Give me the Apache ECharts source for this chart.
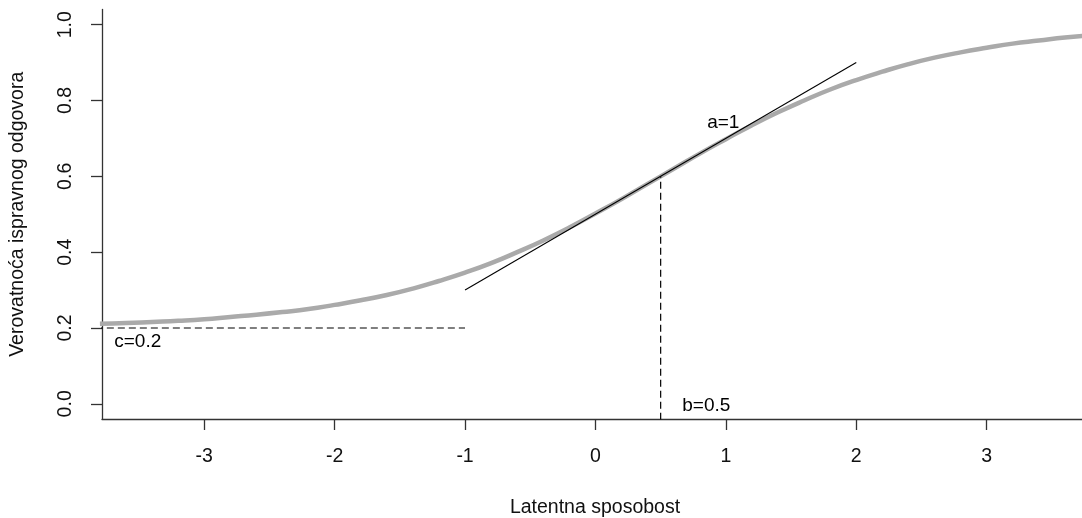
<!DOCTYPE html>
<html>
<head>
<meta charset="utf-8">
<script src="https://cdn.jsdelivr.net/npm/echarts@6/dist/echarts.min.js"></script>
<style>
html,body{margin:0;padding:0;background:#fff;}
#chart{width:1082px;height:518px;}
</style>
</head>
<body>
<div id="chart"></div>
<script>
// Curve values (x from -3.8 to 3.8 every 0.2)
var curveX = [-3.8,-3.6,-3.4,-3.2,-3.0,-2.8,-2.6,-2.4,-2.2,-2.0,-1.8,-1.6,-1.4,-1.2,-1.0,-0.8,-0.6,-0.4,-0.2,0.0,0.2,0.4,0.6,0.8,1.0,1.2,1.4,1.6,1.8,2.0,2.2,2.4,2.6,2.8,3.0,3.2,3.4,3.6,3.8];
var curveY = [0.211,0.213,0.216,0.219,0.223,0.229,0.235,0.242,0.250,0.261,0.273,0.287,0.304,0.324,0.346,0.371,0.400,0.431,0.465,0.502,0.540,0.580,0.620,0.660,0.698,0.735,0.769,0.800,0.829,0.854,0.876,0.896,0.913,0.927,0.939,0.950,0.958,0.966,0.972];
// Tangent line at b
var tangentX = [-1, 2];
var tangentY = [0.3, 0.9];
// Dashed guides
var cLineX = [-4, -1];
var cLineY = [0.2, 0.2];
var bLineX = [0.5, 0.5];
var bLineY = [-0.1, 0.6];
// Annotations
var noteText = ['a=1', 'b=0.5', 'c=0.2'];
var noteX = [0.98, 0.85, -3.51];
var noteY = [0.742, -0.004, 0.165];
// Ticks
var xTicks = [-3, -2, -1, 0, 1, 2, 3];
var yTicks = [0.0, 0.2, 0.4, 0.6, 0.8, 1.0];

function pairs(xs, ys){ return xs.map(function(x,i){ return [x, ys[i]]; }); }

var FONT = 'Liberation Sans, Arial, sans-serif';
var AX = '#333';
var TXT = '#111';

var chart = echarts.init(document.getElementById('chart'), null, {renderer:'canvas'});
chart.setOption({
  animation: false,
  backgroundColor: '#fff',
  grid: {left: 102, right: 0, top: 9.5, bottom: 99, containLabel: false, outerBoundsMode: 'none'},
  xAxis: {
    type: 'value', min: -3.784, max: 3.731,
    name: 'Latentna sposobost', nameLocation: 'middle', nameGap: 79,
    nameTextStyle: {fontFamily: FONT, fontSize: 19.5, color: TXT, padding: [0,0,0,6]},
    axisLine: {onZero: false, lineStyle: {color: AX, width: 1.3}},
    axisTick: {show: true, inside: false, length: 11, customValues: xTicks, lineStyle: {color: AX, width: 1.3}},
    axisLabel: {customValues: xTicks, margin: 28, fontFamily: FONT, fontSize: 19.5, color: TXT,
      formatter: function(v){ return String(v); }},
    splitLine: {show: false}
  },
  yAxis: {
    type: 'value', min: -0.04, max: 1.04,
    name: 'Verovatnoća ispravnog odgovora', nameLocation: 'middle', nameGap: 74, nameRotate: 90,
    nameTextStyle: {fontFamily: FONT, fontSize: 19.5, color: TXT},
    axisLine: {onZero: false, lineStyle: {color: AX, width: 1.3}},
    axisTick: {show: true, inside: false, length: 11, customValues: yTicks, lineStyle: {color: AX, width: 1.3}},
    axisLabel: {customValues: yTicks, rotate: 90, margin: 26, fontFamily: FONT, fontSize: 19.5, color: TXT,
      formatter: function(v){ return Number(v).toFixed(1); }},
    splitLine: {show: false}
  },
  series: [
    {type: 'line', data: pairs(curveX, curveY), smooth: true, showSymbol: false, symbol: 'none',
      lineStyle: {color: '#aaaaaa', width: 4.5}, z: 2},
    {type: 'line', data: pairs(tangentX, tangentY), showSymbol: false, symbol: 'none',
      lineStyle: {color: '#000', width: 1.1}, z: 3},
    {type: 'line', data: pairs(cLineX, cLineY), showSymbol: false, symbol: 'none',
      lineStyle: {color: '#000', width: 1.2, type: [7, 4]}, z: 3},
    {type: 'line', data: pairs(bLineX, bLineY), showSymbol: false, symbol: 'none',
      lineStyle: {color: '#000', width: 1.2, type: [7, 4]}, z: 3},
    {type: 'scatter', symbolSize: 0, z: 4, itemStyle: {opacity: 1},
      data: noteText.map(function(t,i){ return {name: t, value: [noteX[i], noteY[i]]}; }),
      label: {show: true, position: 'inside', formatter: '{b}', fontFamily: FONT, fontSize: 19, color: '#000', opacity: 1}}
  ]
});
</script>
</body>
</html>
